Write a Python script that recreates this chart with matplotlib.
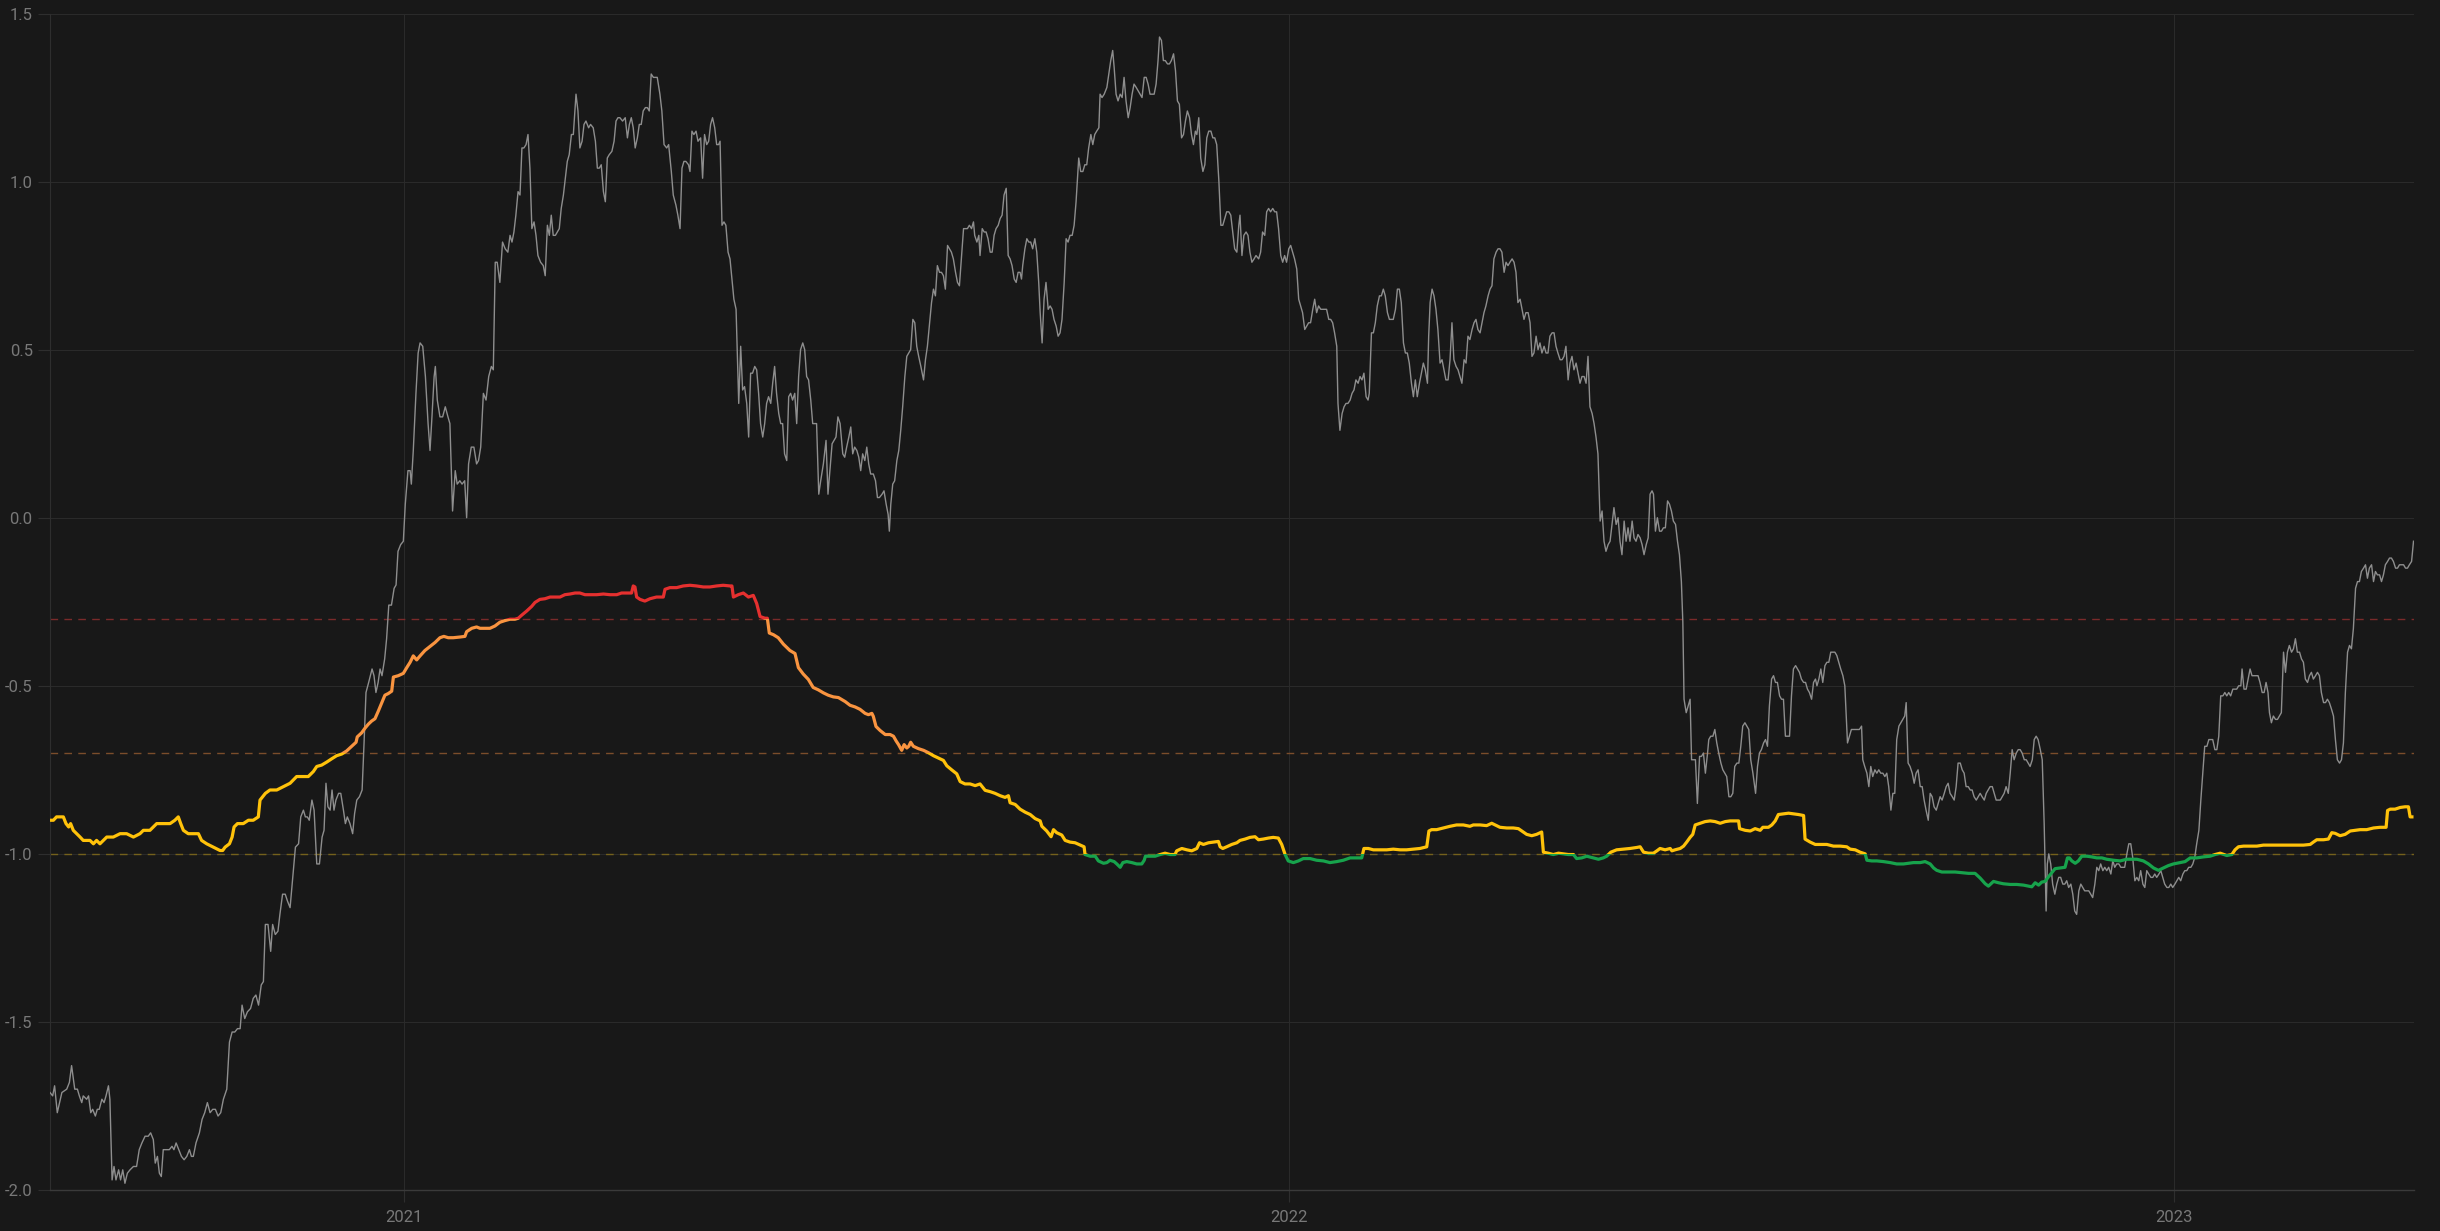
import matplotlib
matplotlib.use('Agg')
import matplotlib.pyplot as plt
import matplotlib.dates as mdates
from matplotlib.patches import Rectangle
import pandas as pd

# day offsets from start_date, value
start_date = pd.Timestamp('2020-08-08')
end_day = 974.8

gray_pts = [
    (0, -1.71), (1.1, -1.72), (1.9, -1.69), (3.0, -1.77), (4.9, -1.71), (6.9, -1.70), (8.0, -1.68), (8.9, -1.63),
    (10.2, -1.70), (11.3, -1.70), (12.1, -1.72), (13.1, -1.74), (13.7, -1.72), (15.1, -1.73), (15.9, -1.72),
    (16.8, -1.77), (17.6, -1.76), (18.7, -1.78), (19.5, -1.76), (20.3, -1.76), (21.4, -1.73), (22.3, -1.74),
    (23.1, -1.72), (24.1, -1.69), (24.7, -1.73), (25.6, -1.97), (26.4, -1.93), (27.2, -1.97), (28.3, -1.94),
    (29.1, -1.97), (30.0, -1.94), (30.9, -1.98), (31.9, -1.95), (33.0, -1.94), (34.4, -1.93), (35.7, -1.93),
    (36.8, -1.88), (37.9, -1.86), (39.2, -1.84), (40.5, -1.84), (41.5, -1.83), (42.6, -1.85), (43.4, -1.92),
    (44.3, -1.90), (45.1, -1.95), (45.9, -1.96), (46.7, -1.88), (48.1, -1.88), (49.2, -1.88), (50.3, -1.87),
    (51.1, -1.88), (52.0, -1.86), (53.1, -1.88), (54.2, -1.90), (55.3, -1.91), (56.4, -1.90), (57.5, -1.88),
    (58.3, -1.90), (59.1, -1.90), (60.2, -1.86), (61.6, -1.83), (62.7, -1.79), (63.8, -1.77), (64.9, -1.74),
    (66.0, -1.77), (67.1, -1.76), (68.2, -1.76), (69.3, -1.78), (70.4, -1.77), (71.5, -1.73), (72.9, -1.70),
    (74.0, -1.56), (75.1, -1.53), (76.2, -1.53), (77.3, -1.52), (78.4, -1.52), (79.2, -1.45), (80.3, -1.49),
    (81.4, -1.47), (82.7, -1.46), (83.8, -1.43), (84.9, -1.42), (86.0, -1.45), (87.1, -1.39), (88.0, -1.38),
    (88.8, -1.21), (89.9, -1.21), (91.0, -1.29), (91.8, -1.21), (92.9, -1.24), (94.0, -1.23), (94.8, -1.18),
    (95.9, -1.12), (97.0, -1.12), (97.9, -1.14), (99.0, -1.16), (100.1, -1.07), (101.2, -0.98), (102.5, -0.97),
    (103.4, -0.89), (104.5, -0.87), (105.3, -0.89), (106.1, -0.89), (106.9, -0.90), (108.0, -0.84), (108.9, -0.87),
    (110.0, -1.03), (111.1, -1.03), (112.2, -0.95), (113.0, -0.93), (113.8, -0.79), (114.6, -0.86), (115.5, -0.87),
    (116.3, -0.81), (117.1, -0.87), (117.9, -0.84), (119.0, -0.82), (119.9, -0.82), (121.0, -0.87), (121.8, -0.91),
    (122.6, -0.89), (123.7, -0.91), (124.8, -0.94), (125.6, -0.88), (126.5, -0.84), (127.6, -0.83), (128.7, -0.81),
    (129.5, -0.67), (130.3, -0.52), (131.4, -0.49), (132.8, -0.45), (133.6, -0.47), (134.4, -0.52), (135.3, -0.49),
    (136.1, -0.45), (136.9, -0.47), (138.0, -0.42), (138.8, -0.36), (139.7, -0.26), (140.8, -0.26), (141.9, -0.21),
    (142.7, -0.20), (143.5, -0.10), (144.6, -0.08), (145.7, -0.07), (146.5, 0.04), (147.6, 0.14), (148.5, 0.14),
    (149.0, 0.10), (149.8, 0.20), (150.9, 0.37), (151.8, 0.49), (152.6, 0.52), (153.7, 0.51), (154.8, 0.42),
    (155.9, 0.28), (156.7, 0.20), (157.5, 0.30), (158.4, 0.42), (158.9, 0.45), (159.7, 0.35),
    (160.8, 0.30), (161.9, 0.30), (163.0, 0.33), (164.1, 0.30), (164.9, 0.28), (166.0, 0.02), (167.1, 0.14),
    (167.9, 0.10), (169.0, 0.11), (169.9, 0.10), (171.0, 0.11), (171.8, 0.00), (172.6, 0.16), (173.7, 0.21),
    (174.8, 0.21), (175.9, 0.16), (176.7, 0.17), (177.6, 0.21), (178.7, 0.37), (179.8, 0.35), (180.9, 0.42),
    (182.0, 0.45), (182.8, 0.44), (183.6, 0.76), (184.4, 0.76), (185.5, 0.70), (186.6, 0.82), (187.7, 0.80),
    (188.8, 0.79), (189.7, 0.84), (190.5, 0.82), (191.3, 0.85), (192.1, 0.90), (193.0, 0.97), (193.8, 0.96),
    (194.6, 1.10), (195.4, 1.10), (196.3, 1.11), (197.1, 1.14), (197.9, 1.04), (198.7, 0.86), (199.6, 0.88),
    (200.4, 0.84), (201.2, 0.78), (202.3, 0.76), (203.4, 0.75), (204.2, 0.72), (205.1, 0.87), (205.9, 0.84),
    (206.7, 0.90), (207.5, 0.84), (208.4, 0.84), (209.2, 0.85), (210.0, 0.86), (210.8, 0.92), (211.7, 0.96),
    (212.5, 1.01), (213.3, 1.06), (214.1, 1.08), (215.0, 1.14), (215.8, 1.14), (216.9, 1.26), (217.7, 1.21),
    (218.5, 1.10), (219.4, 1.12), (220.2, 1.17), (221.0, 1.18), (222.1, 1.16), (222.9, 1.17), (224.0, 1.16),
    (224.9, 1.12), (225.7, 1.04), (226.5, 1.04), (227.3, 1.05), (228.2, 0.97), (229.0, 0.94), (229.8, 1.07),
    (230.6, 1.08), (231.7, 1.09), (232.6, 1.12), (233.4, 1.18), (234.2, 1.19), (235.0, 1.19), (236.1, 1.18),
    (237.2, 1.19), (238.1, 1.13), (238.9, 1.17), (239.7, 1.19), (240.5, 1.16), (241.3, 1.10), (242.2, 1.13),
    (243.0, 1.17), (243.8, 1.17), (244.6, 1.21), (245.5, 1.22), (246.3, 1.22), (247.1, 1.21), (247.9, 1.32),
    (248.8, 1.31), (249.6, 1.31), (250.4, 1.31), (251.5, 1.26), (252.3, 1.21), (253.2, 1.11), (254.3, 1.10),
    (255.1, 1.11), (256.2, 1.03), (257.0, 0.96), (258.1, 0.93), (258.9, 0.90), (259.8, 0.86), (260.6, 1.04),
    (261.4, 1.06), (262.2, 1.06), (263.3, 1.05), (263.9, 1.03), (264.7, 1.15), (265.5, 1.14), (266.4, 1.15),
    (267.2, 1.12), (268.3, 1.13), (269.1, 1.01), (269.9, 1.14), (270.8, 1.11), (271.6, 1.12), (272.4, 1.17),
    (273.2, 1.19), (274.1, 1.16), (274.9, 1.11), (275.7, 1.11), (276.3, 1.12), (277.1, 0.87), (277.9, 0.88),
    (278.7, 0.87), (279.6, 0.79), (280.4, 0.77), (281.2, 0.71), (282.0, 0.65), (282.9, 0.62), (284.0, 0.34),
    (284.8, 0.51), (285.6, 0.38), (286.4, 0.39), (287.3, 0.34), (288.1, 0.24), (288.9, 0.43), (289.7, 0.43),
    (290.6, 0.45), (291.4, 0.44), (292.2, 0.37), (293.0, 0.28), (293.9, 0.24), (294.7, 0.28), (295.5, 0.34),
    (296.3, 0.36), (297.2, 0.34), (298.0, 0.40), (298.8, 0.45), (299.6, 0.37), (300.5, 0.31), (301.3, 0.28),
    (302.1, 0.28), (302.9, 0.19), (303.8, 0.17), (304.6, 0.36), (305.4, 0.37), (306.2, 0.35), (307.1, 0.37),
    (307.9, 0.28), (308.7, 0.42), (309.5, 0.50), (310.4, 0.52), (311.2, 0.50), (312.0, 0.42), (312.8, 0.41),
    (313.7, 0.35), (314.5, 0.28), (315.3, 0.28), (316.1, 0.28), (317.0, 0.07), (317.8, 0.11), (318.9, 0.16),
    (320.0, 0.23), (320.8, 0.07), (321.6, 0.14), (322.5, 0.22), (323.3, 0.23), (324.1, 0.24), (324.9, 0.30),
    (325.8, 0.28), (326.9, 0.19), (327.7, 0.18), (328.5, 0.21), (329.4, 0.24), (330.2, 0.27), (331.0, 0.19),
    (331.8, 0.21), (332.7, 0.20), (333.5, 0.18), (334.3, 0.14), (335.1, 0.19), (336.0, 0.17), (336.8, 0.21),
    (337.6, 0.16), (338.4, 0.13), (339.5, 0.13), (340.4, 0.11), (341.2, 0.06), (342.0, 0.06), (343.1, 0.07),
    (343.9, 0.08), (344.8, 0.04), (345.6, 0.01), (346.1, -0.04), (346.7, 0.04), (347.5, 0.10), (348.3, 0.11),
    (349.2, 0.17), (350.0, 0.20), (350.8, 0.26), (351.6, 0.33), (352.5, 0.42), (353.3, 0.48), (354.1, 0.49),
    (354.9, 0.50), (355.8, 0.59), (356.6, 0.58), (357.4, 0.51), (358.2, 0.48), (359.1, 0.45), (360.2, 0.41),
    (361.0, 0.47), (361.8, 0.51), (362.6, 0.57), (363.5, 0.64), (364.3, 0.68), (365.1, 0.66), (365.9, 0.75),
    (366.8, 0.73), (367.6, 0.73), (368.4, 0.72), (369.2, 0.68), (370.1, 0.81), (370.9, 0.80), (371.7, 0.79),
    (372.5, 0.77), (373.4, 0.73), (374.2, 0.70), (375.0, 0.69), (375.8, 0.77), (376.7, 0.86), (377.5, 0.86),
    (378.3, 0.86), (379.1, 0.87), (380.0, 0.86), (380.8, 0.88), (381.3, 0.84), (382.2, 0.82), (383.0, 0.84),
    (383.5, 0.78), (384.4, 0.86), (385.2, 0.85), (386.0, 0.85), (386.8, 0.83), (387.7, 0.79), (388.5, 0.79),
    (389.3, 0.84), (390.1, 0.86), (391.0, 0.87), (391.8, 0.89), (392.6, 0.90), (393.4, 0.96), (394.3, 0.98),
    (395.1, 0.78), (395.9, 0.77), (396.7, 0.75), (397.6, 0.71), (398.4, 0.70), (399.2, 0.73), (400.0, 0.73),
    (400.6, 0.71), (401.1, 0.75), (402.0, 0.80), (402.8, 0.83), (403.6, 0.82), (404.4, 0.82), (405.2, 0.80),
    (406.1, 0.83), (406.9, 0.79), (407.7, 0.70), (408.3, 0.61), (409.1, 0.52), (409.9, 0.65), (410.7, 0.70),
    (411.6, 0.62), (412.4, 0.63), (413.2, 0.62), (414.0, 0.59), (414.9, 0.57), (415.7, 0.54), (416.5, 0.55),
    (417.3, 0.59), (418.2, 0.70), (419.0, 0.83), (419.8, 0.82), (420.6, 0.84), (421.5, 0.84), (422.3, 0.87),
    (423.1, 0.94), (423.7, 1.01), (424.2, 1.07), (425.0, 1.03), (425.9, 1.03), (426.7, 1.05), (427.5, 1.05),
    (428.3, 1.10), (429.2, 1.14), (430.0, 1.11), (430.8, 1.14), (431.6, 1.15), (432.5, 1.16), (433.0, 1.26),
    (433.8, 1.25), (434.7, 1.26), (435.8, 1.28), (436.6, 1.32), (437.4, 1.36), (438.2, 1.39), (438.8, 1.34),
    (439.6, 1.26), (440.4, 1.24), (441.3, 1.26), (442.1, 1.25), (442.9, 1.31), (443.7, 1.24), (444.6, 1.19),
    (445.4, 1.22), (446.2, 1.26), (447.0, 1.29), (447.9, 1.28), (448.7, 1.27), (449.5, 1.26), (450.3, 1.25),
    (451.2, 1.31), (452.0, 1.31), (452.8, 1.29), (453.6, 1.26), (454.5, 1.26), (455.3, 1.26), (456.1, 1.29),
    (456.9, 1.36), (457.5, 1.43), (458.3, 1.42), (459.1, 1.36), (459.9, 1.36), (460.8, 1.35), (461.6, 1.35),
    (462.4, 1.36), (463.3, 1.38), (464.1, 1.33), (464.9, 1.24), (465.7, 1.23), (466.6, 1.13), (467.4, 1.14),
    (468.2, 1.18), (469.0, 1.21), (469.9, 1.19), (470.7, 1.14), (471.5, 1.11), (472.3, 1.15), (472.9, 1.14),
    (473.7, 1.19), (474.5, 1.07), (475.4, 1.03), (476.2, 1.05), (477.0, 1.13), (477.8, 1.15), (478.7, 1.15),
    (479.5, 1.13), (480.3, 1.13), (481.1, 1.11), (482.0, 1.00), (482.8, 0.87), (483.6, 0.87), (484.4, 0.89),
    (485.2, 0.91), (486.1, 0.91), (486.9, 0.90), (487.7, 0.85), (488.5, 0.80), (489.4, 0.79), (490.2, 0.87),
    (490.7, 0.90), (491.5, 0.78), (492.3, 0.84), (493.2, 0.85), (494.0, 0.84), (494.8, 0.79), (495.6, 0.76),
    (496.5, 0.77), (497.3, 0.78), (498.4, 0.77), (499.2, 0.79), (500.0, 0.85), (500.9, 0.84), (501.7, 0.91),
    (502.5, 0.92), (503.3, 0.91), (504.2, 0.92), (505.0, 0.91), (505.8, 0.91), (506.6, 0.86), (507.5, 0.78),
    (508.3, 0.76), (509.1, 0.78), (509.9, 0.76), (510.8, 0.80), (511.6, 0.81), (512.4, 0.79), (513.2, 0.77),
    (514.1, 0.74), (514.9, 0.65), (515.7, 0.63), (516.5, 0.61), (517.4, 0.56), (518.2, 0.57), (519.0, 0.58),
    (519.8, 0.58), (520.7, 0.62), (521.5, 0.65), (522.3, 0.61), (523.1, 0.63), (524.0, 0.62), (524.8, 0.62),
    (525.6, 0.62), (526.4, 0.62), (527.3, 0.59), (528.1, 0.59), (528.9, 0.58), (529.7, 0.55), (530.6, 0.51),
    (531.1, 0.34), (531.9, 0.26), (532.8, 0.31), (533.6, 0.33), (534.4, 0.34), (535.2, 0.34), (536.1, 0.35),
    (536.9, 0.37), (537.7, 0.38), (538.5, 0.41), (539.4, 0.40), (540.2, 0.42), (541.0, 0.41), (541.8, 0.43),
    (542.7, 0.36), (543.5, 0.35), (544.0, 0.37), (544.9, 0.55), (545.7, 0.55), (546.5, 0.58), (547.3, 0.63),
    (548.2, 0.66), (549.0, 0.66), (549.8, 0.68), (550.6, 0.66), (551.5, 0.61), (552.3, 0.59), (553.1, 0.59),
    (553.9, 0.59), (554.8, 0.62), (555.6, 0.68), (556.4, 0.68), (557.2, 0.64), (558.1, 0.52), (558.9, 0.49),
    (559.7, 0.49), (560.5, 0.46), (561.4, 0.40), (562.2, 0.36), (563.0, 0.41), (563.8, 0.36), (564.7, 0.40),
    (565.5, 0.43), (566.3, 0.46), (567.1, 0.44), (568.0, 0.40), (568.5, 0.54), (569.1, 0.64), (569.9, 0.68),
    (570.7, 0.66), (571.5, 0.62), (572.3, 0.56), (573.2, 0.46), (574.0, 0.47), (574.8, 0.44), (575.6, 0.41),
    (576.5, 0.41), (577.3, 0.47), (578.1, 0.58), (578.9, 0.47), (579.8, 0.45), (580.6, 0.44), (581.4, 0.42),
    (582.2, 0.40), (583.1, 0.47), (583.9, 0.46), (584.7, 0.54), (585.5, 0.53), (586.4, 0.56), (587.2, 0.58),
    (588.0, 0.59), (588.8, 0.56), (589.7, 0.55), (590.5, 0.58), (591.3, 0.61), (592.1, 0.63), (593.0, 0.66),
    (593.8, 0.68), (594.6, 0.69), (595.4, 0.77), (596.3, 0.79), (597.1, 0.80), (597.9, 0.80), (598.7, 0.79),
    (599.6, 0.73), (600.4, 0.76), (601.2, 0.75), (602.0, 0.76), (602.9, 0.77), (603.7, 0.76), (604.5, 0.73),
    (605.3, 0.64), (606.2, 0.65), (607.0, 0.62), (607.8, 0.59), (608.6, 0.61), (609.5, 0.61), (610.3, 0.58),
    (611.1, 0.48), (611.9, 0.49), (612.8, 0.54), (613.6, 0.50), (614.4, 0.52), (615.2, 0.49), (616.1, 0.51),
    (616.9, 0.49), (617.7, 0.49), (618.5, 0.54), (619.4, 0.55), (620.2, 0.55), (621.0, 0.51), (621.8, 0.49),
    (622.7, 0.47), (623.5, 0.47), (624.3, 0.48), (625.1, 0.51), (626.0, 0.41), (626.8, 0.46), (627.6, 0.48),
    (628.4, 0.44), (629.3, 0.46), (630.1, 0.43), (630.9, 0.40), (631.7, 0.42), (632.6, 0.42), (633.4, 0.40),
    (634.2, 0.48), (635.0, 0.33), (635.9, 0.31), (636.7, 0.28), (637.5, 0.24), (638.3, 0.19), (639.2, -0.01),
    (640.0, 0.02), (640.8, -0.07), (641.6, -0.10), (642.5, -0.08), (643.3, -0.07), (644.1, -0.02), (644.9, 0.03),
    (645.8, -0.02), (646.6, 0.00), (647.4, -0.07), (648.2, -0.11), (649.1, -0.01), (649.9, -0.07), (650.7, -0.03),
    (651.5, -0.07), (652.4, -0.01), (653.2, -0.06), (654.0, -0.07), (654.8, -0.05),
    (655.7, -0.06), (656.5, -0.08), (657.3, -0.11), (658.2, -0.08), (659.0, -0.06), (659.8, 0.07), (660.6, 0.08),
    (661.2, 0.07), (662.0, -0.04), (662.8, 0.00), (663.7, -0.04), (664.5, -0.04), (665.3, -0.03), (666.1, -0.03),
    (667.0, 0.05), (667.8, 0.04), (668.6, 0.02), (669.4, -0.01), (670.3, -0.02), (671.1, -0.07), (671.9, -0.11),
    (672.7, -0.19), (673.3, -0.31), (673.8, -0.54), (674.7, -0.58), (675.5, -0.56), (676.3, -0.54), (676.9, -0.72),
    (677.7, -0.72), (678.5, -0.72), (679.3, -0.85), (680.2, -0.71), (681.0, -0.71), (681.8, -0.70), (682.6, -0.76),
    (683.5, -0.70), (684.0, -0.66), (684.8, -0.65), (685.7, -0.65), (686.5, -0.63), (687.3, -0.67), (688.1, -0.70),
    (689.0, -0.73), (689.8, -0.75), (690.6, -0.76), (691.4, -0.77), (692.3, -0.83), (693.1, -0.83), (693.9, -0.82),
    (694.7, -0.74), (695.6, -0.73), (696.4, -0.73), (697.2, -0.68), (698.0, -0.62), (698.9, -0.61), (699.7, -0.62),
    (700.5, -0.63), (701.3, -0.72), (702.2, -0.76), (703.3, -0.82), (704.1, -0.74), (704.9, -0.70), (705.7, -0.69),
    (706.6, -0.67), (707.4, -0.66), (708.2, -0.68), (709.0, -0.56), (709.9, -0.48), (710.7, -0.47), (711.5, -0.49),
    (712.3, -0.49), (713.2, -0.53), (714.0, -0.54), (714.8, -0.54), (715.6, -0.65), (716.5, -0.65), (717.3, -0.65),
    (718.1, -0.53), (718.9, -0.45), (719.8, -0.44), (720.6, -0.45), (721.4, -0.46), (722.2, -0.48), (723.1, -0.49),
    (723.9, -0.49), (724.7, -0.51), (725.5, -0.52), (726.4, -0.54), (727.2, -0.49), (728.0, -0.48), (728.6, -0.50),
    (729.4, -0.48), (730.2, -0.45), (731.0, -0.49), (731.9, -0.44), (732.7, -0.43), (733.5, -0.43), (734.3, -0.40),
    (735.1, -0.40), (736.0, -0.40), (736.8, -0.41), (737.6, -0.43), (738.4, -0.45), (739.3, -0.47), (740.1, -0.50),
    (740.6, -0.58), (741.2, -0.67), (742.0, -0.65), (742.8, -0.63), (743.7, -0.63), (744.5, -0.63), (745.3, -0.63),
    (746.1, -0.63), (747.0, -0.62), (747.5, -0.72), (748.3, -0.74), (749.2, -0.76), (750.0, -0.80), (750.8, -0.74),
    (751.6, -0.77), (752.5, -0.75), (753.3, -0.76), (754.1, -0.75), (754.9, -0.76), (755.8, -0.76), (756.6, -0.77),
    (757.4, -0.76), (758.2, -0.80), (759.1, -0.87), (759.9, -0.82), (760.7, -0.82), (761.5, -0.66), (762.4, -0.62),
    (763.2, -0.61), (764.0, -0.60), (764.8, -0.59), (765.4, -0.55), (766.2, -0.73), (767.0, -0.74), (767.9, -0.76),
    (768.7, -0.79), (769.5, -0.76), (770.3, -0.75), (771.2, -0.80), (772.0, -0.80), (772.8, -0.84), (773.6, -0.87),
    (774.5, -0.90), (775.3, -0.82), (776.1, -0.83), (776.9, -0.86), (777.8, -0.87), (778.6, -0.85), (779.4, -0.83),
    (780.2, -0.84), (781.1, -0.82), (781.9, -0.80), (782.7, -0.79), (783.5, -0.82), (784.4, -0.83), (785.2, -0.84),
    (786.0, -0.80), (786.8, -0.73), (787.7, -0.73), (788.5, -0.75), (789.3, -0.76), (790.1, -0.80), (791.0, -0.80),
    (791.8, -0.81), (792.6, -0.81), (793.4, -0.83), (794.3, -0.84), (795.1, -0.83), (795.9, -0.82), (796.7, -0.83),
    (797.6, -0.84), (798.4, -0.82), (799.2, -0.81), (800.0, -0.80), (800.9, -0.80), (801.7, -0.82), (802.5, -0.84),
    (803.3, -0.84), (804.2, -0.84), (805.0, -0.83), (805.8, -0.82), (806.6, -0.80), (807.5, -0.82), (808.3, -0.76),
    (809.1, -0.69), (809.9, -0.72), (810.8, -0.70), (811.6, -0.69), (812.4, -0.69), (813.2, -0.70), (814.1, -0.72),
    (814.9, -0.72), (815.7, -0.73), (816.5, -0.74), (817.4, -0.72), (818.2, -0.66), (819.0, -0.65), (819.8, -0.66),
    (820.7, -0.69), (821.5, -0.72), (822.3, -0.91), (823.1, -1.17), (823.6, -1.03), (824.2, -1.00),
    (825.0, -1.03), (825.8, -1.09), (826.7, -1.12), (827.5, -1.09), (828.3, -1.07), (829.1, -1.07), (830.0, -1.09),
    (830.8, -1.09), (831.6, -1.08), (832.4, -1.10), (833.3, -1.09), (834.1, -1.12), (834.9, -1.17), (835.7, -1.18),
    (836.6, -1.11), (837.4, -1.09), (838.2, -1.10), (839.0, -1.11), (839.9, -1.11), (840.7, -1.11), (841.5, -1.12),
    (842.3, -1.13), (843.2, -1.09), (844.0, -1.04), (844.8, -1.05), (845.6, -1.03), (846.5, -1.05), (847.3, -1.04),
    (848.1, -1.05), (848.9, -1.04), (849.8, -1.06), (850.6, -1.02), (851.4, -1.04), (852.2, -1.03), (853.1, -1.03),
    (853.9, -1.04), (854.7, -1.04), (855.5, -1.04), (856.4, -1.00), (857.2, -0.97), (858.0, -0.97), (858.8, -1.01),
    (859.7, -1.08), (860.5, -1.07), (861.3, -1.08), (862.1, -1.05), (863.0, -1.09), (863.8, -1.10), (864.6, -1.05),
    (865.4, -1.06), (866.3, -1.07), (867.1, -1.07), (867.9, -1.06), (868.7, -1.07), (869.6, -1.06), (870.4, -1.05),
    (871.2, -1.07), (872.0, -1.09), (872.9, -1.10), (873.7, -1.10), (874.5, -1.09), (875.3, -1.10), (876.2, -1.09),
    (877.0, -1.08), (877.8, -1.07), (878.6, -1.08), (879.5, -1.06), (880.3, -1.05), (881.1, -1.05), (881.9, -1.04),
    (882.8, -1.04), (883.6, -1.03), (884.4, -1.01), (885.2, -0.97), (886.1, -0.93), (886.9, -0.84), (887.7, -0.76),
    (888.5, -0.68), (889.4, -0.68), (890.2, -0.66), (891.0, -0.66), (891.8, -0.66), (892.7, -0.69), (893.5, -0.69),
    (894.3, -0.65), (895.1, -0.53), (896.0, -0.53), (896.8, -0.52), (897.6, -0.53), (898.4, -0.52), (899.2, -0.53),
    (900.1, -0.51), (900.9, -0.51), (901.7, -0.51), (902.5, -0.50), (903.4, -0.50), (903.9, -0.45), (904.7, -0.51),
    (905.6, -0.51), (906.4, -0.48), (907.2, -0.45), (908.0, -0.47), (908.9, -0.47), (909.7, -0.47), (910.5, -0.47),
    (911.3, -0.49), (912.2, -0.52), (913.0, -0.52), (913.8, -0.49), (914.6, -0.52), (915.2, -0.58), (916.0, -0.61),
    (916.8, -0.59), (917.7, -0.60), (918.5, -0.60), (919.3, -0.59), (920.1, -0.58), (921.0, -0.40), (921.8, -0.46),
    (922.6, -0.40), (923.4, -0.38), (924.3, -0.40), (925.1, -0.39), (925.9, -0.36), (926.7, -0.40), (927.6, -0.40),
    (928.4, -0.42), (929.2, -0.43), (930.0, -0.48), (930.9, -0.49), (931.7, -0.47), (932.5, -0.46), (933.3, -0.48),
    (934.2, -0.47), (935.0, -0.46), (935.8, -0.47), (936.6, -0.52), (937.5, -0.55), (938.3, -0.55), (939.1, -0.54),
    (939.9, -0.55), (940.8, -0.57), (941.6, -0.59), (942.4, -0.66), (943.2, -0.72), (944.1, -0.73), (944.9, -0.72),
    (945.7, -0.67), (946.5, -0.52), (947.4, -0.40), (948.2, -0.38), (949.0, -0.39), (949.8, -0.33), (950.7, -0.21),
    (951.5, -0.19), (952.3, -0.19), (953.1, -0.16), (954.0, -0.15), (954.8, -0.14), (955.6, -0.18), (956.4, -0.15),
    (957.3, -0.14), (958.1, -0.19), (958.9, -0.16), (959.7, -0.17), (960.6, -0.17), (961.4, -0.19), (962.2, -0.17),
    (963.0, -0.14), (963.9, -0.13), (964.7, -0.12), (965.5, -0.12), (966.3, -0.13), (967.2, -0.15), (968.0, -0.15),
    (968.8, -0.14), (969.6, -0.14), (970.5, -0.14), (971.3, -0.15), (972.1, -0.15), (972.9, -0.14), (973.8, -0.13),
    (974.6, -0.07),
]

signal_pts = [
    (0, -0.90), (1.4, -0.90), (2.7, -0.89), (4.1, -0.89), (5.5, -0.89), (6.6, -0.91), (7.7, -0.92), (8.5, -0.91),
    (9.6, -0.93), (11.0, -0.94), (12.4, -0.95), (13.7, -0.96), (15.1, -0.96), (16.5, -0.96), (17.9, -0.97),
    (19.2, -0.96), (20.6, -0.97), (22.0, -0.96), (23.4, -0.95), (24.7, -0.95), (26.1, -0.95), (28.9, -0.94),
    (31.6, -0.94), (34.4, -0.95), (37.1, -0.94), (38.5, -0.93), (41.2, -0.93), (44.0, -0.91), (46.7, -0.91),
    (49.5, -0.91), (51.5, -0.90), (52.9, -0.89), (53.9, -0.91), (55.0, -0.93), (57.0, -0.94), (59.1, -0.94),
    (61.2, -0.94), (62.5, -0.96), (64.6, -0.97), (67.4, -0.98), (70.1, -0.99), (71.2, -0.99), (72.2, -0.98),
    (74.0, -0.97), (75.1, -0.95), (75.9, -0.92), (77.3, -0.91), (79.7, -0.91), (81.8, -0.90), (83.8, -0.90),
    (85.9, -0.89), (86.6, -0.84), (87.7, -0.83), (88.8, -0.82), (90.7, -0.81), (93.5, -0.81), (96.2, -0.80),
    (99.0, -0.79), (101.7, -0.77), (104.5, -0.77), (106.5, -0.77), (108.6, -0.755), (110.0, -0.74), (112.0, -0.736),
    (114.1, -0.727), (116.2, -0.717), (118.2, -0.708), (120.3, -0.703), (122.3, -0.694), (124.4, -0.68),
    (126.2, -0.668), (126.7, -0.652), (128.5, -0.64), (129.9, -0.626), (131.3, -0.614), (132.6, -0.605),
    (134.0, -0.598), (135.4, -0.575), (136.8, -0.551), (138.1, -0.528), (139.5, -0.523), (140.9, -0.516),
    (141.6, -0.474), (143.6, -0.47), (145.7, -0.463), (147.1, -0.446), (148.5, -0.43), (149.8, -0.411),
    (151.2, -0.423), (152.6, -0.411), (154.6, -0.395), (156.7, -0.383), (158.8, -0.371),
    (160.8, -0.357), (162.4, -0.353), (164.2, -0.357), (166.3, -0.357), (169.0, -0.355), (171.1, -0.353),
    (171.8, -0.339), (173.9, -0.329), (175.9, -0.325), (177.3, -0.329), (179.4, -0.329), (181.4, -0.329),
    (183.5, -0.322), (185.5, -0.311), (187.6, -0.306), (189.7, -0.302), (191.7, -0.302), (193.1, -0.299),
    (194.5, -0.29), (196.5, -0.278), (198.6, -0.264), (200.0, -0.252), (202.0, -0.243), (204.1, -0.241),
    (206.2, -0.236), (208.2, -0.236), (210.3, -0.236), (212.3, -0.229), (214.4, -0.227), (216.5, -0.224),
    (218.5, -0.224), (220.6, -0.229), (222.7, -0.229), (225.4, -0.229), (228.2, -0.227), (230.9, -0.229),
    (233.7, -0.229), (235.7, -0.224), (237.8, -0.224), (239.8, -0.224), (240.5, -0.203), (241.2, -0.206),
    (241.9, -0.236), (243.3, -0.243), (245.3, -0.248), (247.4, -0.241), (250.1, -0.236), (252.9, -0.236),
    (253.6, -0.213), (255.6, -0.208), (258.4, -0.208), (261.1, -0.203), (263.9, -0.201), (266.6, -0.203),
    (269.4, -0.206), (272.1, -0.206), (274.9, -0.203), (277.6, -0.201), (280.4, -0.203), (281.2, -0.203),
    (281.8, -0.236), (283.8, -0.229), (285.9, -0.224), (288.0, -0.236), (290.0, -0.231), (291.4, -0.255),
    (292.8, -0.294), (294.8, -0.299), (295.8, -0.299), (296.6, -0.343), (298.3, -0.348), (300.3, -0.357),
    (302.4, -0.376), (305.1, -0.395), (307.2, -0.404), (308.6, -0.446), (310.6, -0.465), (312.7, -0.481),
    (314.7, -0.505), (316.8, -0.512), (318.9, -0.521), (320.9, -0.528), (323.0, -0.533), (325.1, -0.535),
    (327.9, -0.547), (329.9, -0.558), (332.0, -0.563), (334.0, -0.57), (336.1, -0.582), (337.5, -0.586),
    (338.9, -0.582), (339.5, -0.591), (340.6, -0.621), (342.3, -0.633), (344.4, -0.645), (346.4, -0.645),
    (347.8, -0.65), (348.9, -0.664), (349.9, -0.675), (351.2, -0.692), (352.2, -0.675), (353.3, -0.685),
    (354.1, -0.68), (354.9, -0.668), (356.0, -0.68), (358.1, -0.687), (360.2, -0.692), (362.2, -0.699),
    (364.3, -0.708), (366.4, -0.715), (368.4, -0.722), (369.8, -0.738), (371.8, -0.75), (373.9, -0.762),
    (375.3, -0.785), (377.3, -0.792), (379.4, -0.792), (381.5, -0.797), (383.5, -0.792), (385.6, -0.811),
    (387.7, -0.815), (389.7, -0.82), (391.8, -0.827), (393.8, -0.832), (395.2, -0.827), (395.9, -0.848),
    (398.0, -0.853), (400.0, -0.867), (402.1, -0.876), (404.2, -0.883), (406.2, -0.895), (408.3, -0.902),
    (409.0, -0.918), (411.0, -0.932), (412.8, -0.949), (413.8, -0.928), (415.1, -0.937), (417.2, -0.944),
    (418.6, -0.96), (420.6, -0.965), (422.7, -0.967), (424.8, -0.974), (426.4, -0.979), (426.8, -1.002),
    (428.9, -1.007), (431.0, -1.007), (432.3, -1.021), (434.4, -1.028), (435.8, -1.026), (437.1, -1.019),
    (438.8, -1.023), (439.9, -1.03), (441.3, -1.04), (442.4, -1.026), (444.0, -1.023), (446.1, -1.026),
    (448.1, -1.03), (450.2, -1.03), (451.2, -1.019), (451.7, -1.007), (453.6, -1.007), (455.7, -1.007),
    (457.8, -1.002), (459.8, -0.998), (461.9, -1.002), (463.9, -1.002), (464.6, -0.991), (466.7, -0.984),
    (468.8, -0.988), (470.8, -0.991), (472.9, -0.984), (474.0, -0.967), (475.6, -0.972), (477.7, -0.967),
    (479.8, -0.965), (481.8, -0.963), (482.5, -0.979), (483.6, -0.984), (485.2, -0.979), (487.3, -0.972),
    (489.4, -0.967), (490.7, -0.96), (492.8, -0.956), (494.8, -0.951), (496.9, -0.949), (498.3, -0.958),
    (500.3, -0.956), (502.4, -0.953), (504.4, -0.951), (506.5, -0.953), (507.9, -0.972), (509.3, -1.002),
    (510.6, -1.021), (512.7, -1.026), (514.8, -1.021), (516.8, -1.014), (519.6, -1.014), (522.3, -1.019),
    (525.1, -1.021), (527.8, -1.026), (530.6, -1.023), (533.3, -1.019), (536.1, -1.012), (538.8, -1.012),
    (540.9, -1.012), (541.8, -0.984), (543.6, -0.984), (545.7, -0.988), (548.4, -0.988), (551.2, -0.988),
    (553.9, -0.986), (556.7, -0.988), (559.4, -0.988), (562.2, -0.986), (564.9, -0.984), (567.7, -0.979),
    (568.6, -0.932), (569.7, -0.928), (571.8, -0.928), (574.5, -0.923), (577.3, -0.918), (580.0, -0.914),
    (582.8, -0.914), (585.5, -0.918), (586.9, -0.914), (589.7, -0.914), (592.4, -0.916), (594.5, -0.909),
    (595.9, -0.914), (597.9, -0.921), (600.7, -0.923), (603.4, -0.923), (605.5, -0.925), (606.9, -0.932),
    (608.9, -0.942), (611.0, -0.946), (613.0, -0.942), (615.1, -0.935), (615.8, -0.995), (617.8, -0.998),
    (619.9, -1.002), (622.0, -0.998), (624.0, -1.0), (626.1, -1.002), (628.2, -1.002), (629.5, -1.014),
    (631.6, -1.012), (633.7, -1.007), (636.4, -1.012), (638.5, -1.016), (640.5, -1.012), (641.9, -1.007),
    (643.6, -0.995), (646.0, -0.988), (648.8, -0.986), (651.5, -0.984), (654.3, -0.981),
    (655.7, -0.979), (657.1, -0.995), (659.1, -0.998), (661.2, -0.998), (662.6, -0.991), (663.9, -0.984),
    (666.0, -0.988), (668.1, -0.984), (668.8, -0.991), (670.1, -0.988), (672.2, -0.984), (673.6, -0.977),
    (674.9, -0.965), (676.3, -0.951), (677.4, -0.942), (678.4, -0.914), (680.4, -0.909), (682.5, -0.904),
    (684.6, -0.902), (686.6, -0.904), (688.7, -0.909), (690.8, -0.904), (692.8, -0.902), (694.9, -0.902),
    (696.3, -0.902), (696.7, -0.925), (699.0, -0.93), (701.1, -0.932), (703.1, -0.925), (705.2, -0.93),
    (706.3, -0.921), (708.6, -0.921), (710.0, -0.914), (711.4, -0.902), (712.7, -0.883), (714.8, -0.881),
    (716.9, -0.879), (718.9, -0.881), (721.0, -0.883), (723.1, -0.886), (723.7, -0.956), (725.8, -0.965),
    (727.9, -0.972), (729.9, -0.972), (732.7, -0.972), (735.4, -0.977), (738.2, -0.977), (740.9, -0.979),
    (742.3, -0.986), (744.4, -0.988), (746.4, -0.995), (748.5, -1.0), (749.2, -1.019), (751.2, -1.021),
    (753.3, -1.021), (756.0, -1.023), (758.8, -1.026), (761.5, -1.03), (764.3, -1.03), (766.4, -1.028),
    (768.4, -1.026), (771.2, -1.026), (773.2, -1.023), (775.3, -1.03), (776.7, -1.042), (778.0, -1.049),
    (780.1, -1.054), (782.8, -1.054), (785.6, -1.054), (788.3, -1.056), (791.1, -1.058), (793.8, -1.058),
    (795.9, -1.072), (798.0, -1.089), (799.3, -1.096), (801.4, -1.082), (803.5, -1.086), (805.5, -1.089),
    (808.3, -1.091), (811.0, -1.091), (813.8, -1.093), (815.8, -1.096), (817.2, -1.098), (818.6, -1.086),
    (820.0, -1.093), (821.3, -1.084), (822.7, -1.082), (824.1, -1.068),
    (826.8, -1.044), (828.9, -1.042), (830.9, -1.04), (831.9, -1.012), (832.7, -1.012), (833.7, -1.021),
    (835.1, -1.028), (836.4, -1.021), (837.8, -1.007), (839.9, -1.007), (841.9, -1.009), (844.0, -1.012),
    (846.1, -1.012), (848.1, -1.016), (850.9, -1.019), (853.6, -1.021), (856.4, -1.016), (858.4, -1.016),
    (860.5, -1.016), (863.2, -1.021), (865.3, -1.03), (867.4, -1.042), (869.4, -1.049), (871.5, -1.042),
    (873.5, -1.035), (875.6, -1.03), (878.4, -1.026), (880.4, -1.023), (882.5, -1.012), (885.2, -1.012),
    (888.0, -1.009), (890.7, -1.007), (892.8, -1.002), (894.9, -0.998), (897.6, -1.005), (899.7, -1.002),
    (901.0, -0.988), (902.4, -0.979), (904.5, -0.977), (907.2, -0.977), (910.0, -0.977), (912.7, -0.974),
    (915.5, -0.974), (918.2, -0.974), (921.0, -0.974), (923.7, -0.974), (926.5, -0.974), (929.2, -0.974),
    (932.0, -0.972), (933.3, -0.965), (934.7, -0.958), (937.5, -0.958), (939.5, -0.956), (940.9, -0.937),
    (942.3, -0.939), (944.3, -0.946), (946.4, -0.942), (948.5, -0.932), (950.5, -0.93), (952.6, -0.928),
    (955.3, -0.928), (958.1, -0.923), (960.8, -0.921), (963.3, -0.921), (963.9, -0.871), (965.0, -0.867),
    (967.0, -0.867), (969.1, -0.862), (971.1, -0.86), (972.5, -0.86), (973.2, -0.89), (974.6, -0.89),
]

# signal zones: (low, high, colour)
zones = [(-0.3, 10, '#e5302f'), (-0.7, -0.3, '#f99440'), (-1.0, -0.7, '#ffc20a'), (-10, -1.0, '#17a34c')]
levels = [(-0.3, '#7a2a2a'), (-0.7, '#7b4d2b'), (-1.0, '#74611c')]
y_ticks = [-2.0, -1.5, -1.0, -0.5, 0.0, 0.5, 1.0, 1.5]

bg = '#181818'
plt.rcParams['axes.unicode_minus'] = False
plt.rcParams['font.family'] = ['Roboto', 'DejaVu Sans']

fig = plt.figure(figsize=(24.4, 12.31), dpi=100, facecolor=bg)
ax = fig.add_axes([50 / 2440, 1 - 1190 / 1231, 2364 / 2440, 1176.5 / 1231])
ax.set_facecolor(bg)


def to_dates(pts):
    return start_date + pd.to_timedelta([p[0] for p in pts], unit='D'), [p[1] for p in pts]


gx, gy = to_dates(gray_pts)
sx, sy = to_dates(signal_pts)

ax.plot(gx, gy, color='#8e8e8e', lw=1.0, zorder=3)

for lo, hi, c in zones:
    ln, = ax.plot(sx, sy, color=c, lw=2.3, zorder=4, solid_joinstyle='round', solid_capstyle='butt')
    band = Rectangle((-1e6, lo), 2e6, hi - lo, transform=ax.transData)
    ln.set_clip_path(band)

for y, c in levels:
    ax.axhline(y, color=c, lw=1.0, ls=(0, (5.5, 4.5)), zorder=2)

ax.set_ylim(-2.0, 1.5)
ax.set_xlim(start_date, start_date + pd.Timedelta(days=end_day))
ax.set_yticks(y_ticks)
ax.set_yticklabels([f'{t:.1f}' for t in y_ticks])
ax.xaxis.set_major_locator(mdates.YearLocator())
ax.xaxis.set_major_formatter(mdates.DateFormatter('%Y'))

ax.grid(True, color='#2a2a2a', lw=0.8, zorder=1)
ax.tick_params(colors='#2e2e2e', length=8.5, width=0.8, labelcolor='#787878', labelsize=12)
ax.tick_params(axis='y', pad=4)
ax.tick_params(axis='x', pad=6)
for s in ['top', 'right']:
    ax.spines[s].set_visible(False)
ax.spines['left'].set_color('#2e2e2e')
ax.spines['bottom'].set_color('#3a3a3a')
ax.spines['bottom'].set_linewidth(1.0)

fig.savefig('out.png', dpi=100, facecolor=bg)
